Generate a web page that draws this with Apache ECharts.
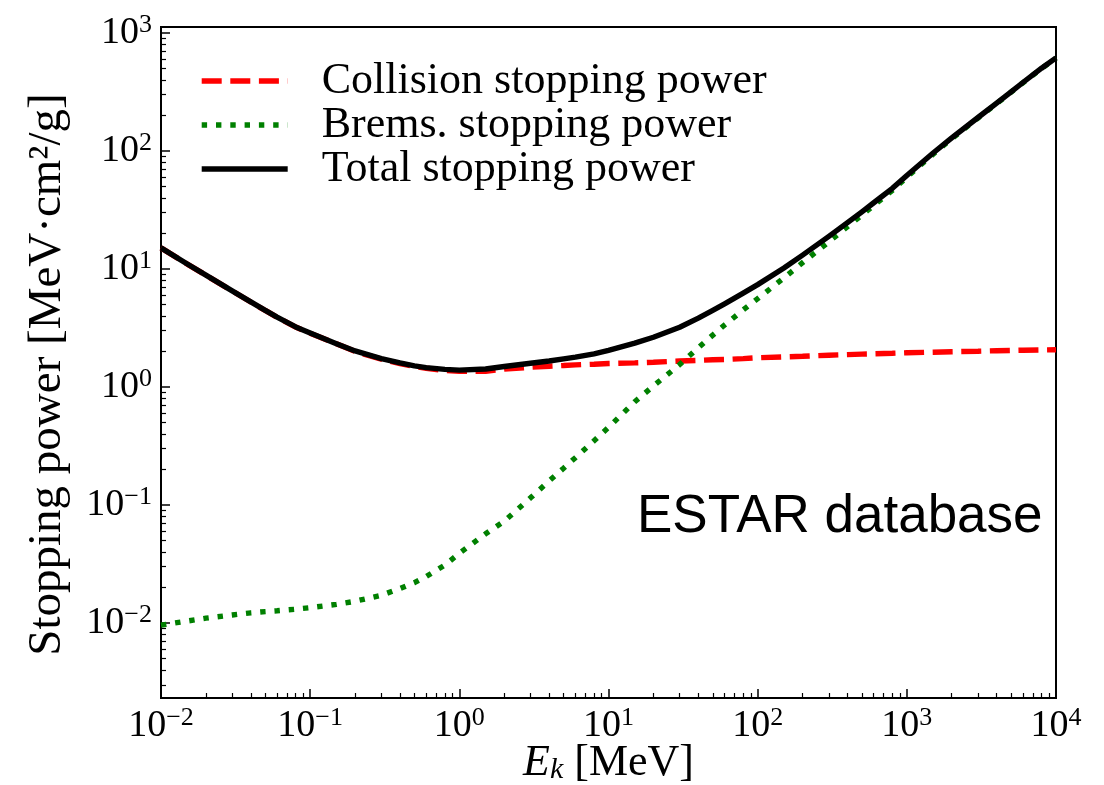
<!DOCTYPE html>
<html>
<head>
<meta charset="utf-8">
<script src="https://cdn.jsdelivr.net/npm/echarts@6/dist/echarts.min.js"></script>
<style>
html,body{margin:0;padding:0;background:#fff;}
#chart{width:1104px;height:785px;}
</style>
</head>
<body>
<div id="chart"></div>
<script>
// ---- data ----
const energy = [0.01,0.015,0.02,0.03,0.04,0.05,0.06,0.08,0.1,0.15,0.2,0.3,0.4,0.5,0.6,0.8,
  1,1.5,2,3,4,5,6,8,10,15,20,30,40,50,60,80,100,150,200,300,400,500,600,800,
  1000,1500,2000,3000,4000,5000,6000,8000,10000];
const collision = [15.1,11.0,8.85,6.52,5.25,4.45,3.90,3.22,2.86,2.32,2.00,1.72,1.58,1.49,1.44,1.38,
  1.355,1.36,1.42,1.47,1.50,1.52,1.54,1.56,1.58,1.60,1.62,1.66,1.68,1.70,1.71,1.74,1.77,1.80,1.82,1.86,1.88,1.90,1.91,1.93,
  1.95,1.97,1.99,2.01,2.03,2.04,2.05,2.06,2.07];
const brems = [0.0096,0.0104,0.0110,0.0117,0.0122,0.0125,0.0127,0.0131,0.0135,0.0144,0.0153,0.0172,0.0196,0.0220,0.0248,0.031,
  0.039,0.057,0.073,0.115,0.16,0.205,0.252,0.35,0.455,0.75,1.02,1.55,2.15,2.75,3.35,4.5,5.6,8.4,11.3,17.0,22.8,28.6,34.5,46.3,
  60,94,127,190,252,315,378,500,612];
const total = [15.1,11.01,8.86,6.53,5.26,4.46,3.91,3.23,2.87,2.33,2.02,1.74,1.60,1.51,1.46,1.41,
  1.39,1.42,1.49,1.59,1.66,1.73,1.79,1.91,2.04,2.35,2.64,3.21,3.83,4.45,5.06,6.24,7.37,10.2,13.1,18.9,24.7,30.5,36.4,48.2,
  62,96,129,192,254,317,380,502,614];
const xTickExp = [-2,-1,0,1,2,3,4];
const yTickExp = [-2,-1,0,1,2,3];
const seriesNames = ['Collision stopping power','Brems. stopping power','Total stopping power'];
const xNameParts = ['E', 'k', ' [MeV]'];
const yName = 'Stopping power [MeV·cm²/g]';
const annotation = 'ESTAR database';

// ---- helpers ----
const toLog = (ys) => energy.map((e, i) => [Math.log10(e), Math.log10(ys[i])]);
const supText = (v) => { const n = Math.round(v); return (n < 0 ? '\u2212' + (-n) : '' + n); };
const tickFmt = (v) => '{b|10}{s|' + supText(v) + '}';
function minorTicks(lo, hi) {
  const out = [];
  for (let n = Math.floor(lo) - 1; n <= Math.ceil(hi); n++) {
    for (let k = 2; k <= 9; k++) {
      const v = n + Math.log10(k);
      if (v > lo && v < hi) out.push(v);
    }
  }
  return out;
}
const X_MIN = -2, X_MAX = 4, Y_MIN = -2.635, Y_MAX = 3.05;
const serif = 'Liberation Serif';
const labelRich = {
  b: { fontFamily: serif, fontSize: 38, color: '#000', lineHeight: 42 },
  s: { fontFamily: serif, fontSize: 26, color: '#000', verticalAlign: 'top', lineHeight: 25 }
};

const chart = echarts.init(document.getElementById('chart'), null, { renderer: 'canvas' });

const option = {
  animation: false,
  backgroundColor: '#fff',
  grid: { left: 161, right: 48, top: 27, bottom: 87, show: true, borderColor: '#000', borderWidth: 2,
          backgroundColor: 'transparent', outerBoundsMode: 'none', containLabel: false },
  legend: {
    orient: 'vertical',
    left: 199, top: 59, padding: 0,
    itemWidth: 86, itemHeight: 14, itemGap: 0,
    data: seriesNames,
    itemStyle: { opacity: 0 },
    lineStyle: { width: 'inherit', type: 'inherit', cap: 'butt' },
    textStyle: { fontFamily: serif, fontSize: 44, color: '#000', lineHeight: 42.5, padding: [0, 0, 0, 29] }
  },
  xAxis: [
    {
      type: 'value', min: X_MIN, max: X_MAX, interval: 1,
      name: '{i|' + xNameParts[0] + '}{k|' + xNameParts[1] + '}{n|' + xNameParts[2] + '}',
      nameLocation: 'middle', nameGap: 43, nameMoveOverlap: false,
      nameTextStyle: { rich: {
        i: { fontFamily: serif, fontStyle: 'italic', fontSize: 44, color: '#000', lineHeight: 44 },
        k: { fontFamily: serif, fontStyle: 'italic', fontSize: 30, color: '#000', verticalAlign: 'bottom', lineHeight: 36 },
        n: { fontFamily: serif, fontSize: 44, color: '#000', lineHeight: 44 }
      } },
      axisLine: { show: true, onZero: false, lineStyle: { color: '#000', width: 2 } },
      axisTick: { show: true, inside: true, length: 9, lineStyle: { color: '#000', width: 1.5 } },
      axisLabel: { formatter: tickFmt, rich: labelRich, margin: 7 },
      splitLine: { show: false }
    },
    {
      type: 'value', min: X_MIN, max: X_MAX, position: 'bottom',
      axisLine: { show: false, onZero: false },
      axisTick: { show: true, inside: true, length: 5, customValues: minorTicks(X_MIN, X_MAX), lineStyle: { color: '#000', width: 1.2 } },
      axisLabel: { show: false },
      splitLine: { show: false }
    }
  ],
  yAxis: [
    {
      type: 'value', min: Y_MIN, max: Y_MAX,
      name: yName, nameLocation: 'middle', nameRotate: 90, nameGap: 90,
      nameTextStyle: { fontFamily: serif, fontSize: 47, color: '#000', padding: [0, 24, 0, 0] },
      axisLine: { show: true, onZero: false, lineStyle: { color: '#000', width: 2 } },
      axisTick: { show: true, inside: true, length: 9, customValues: yTickExp, lineStyle: { color: '#000', width: 1.5 } },
      axisLabel: { formatter: tickFmt, rich: labelRich, margin: 9, customValues: yTickExp },
      splitLine: { show: false }
    },
    {
      type: 'value', min: Y_MIN, max: Y_MAX, position: 'left',
      axisLine: { show: false, onZero: false },
      axisTick: { show: true, inside: true, length: 5, customValues: minorTicks(Y_MIN, Y_MAX), lineStyle: { color: '#000', width: 1.2 } },
      axisLabel: { show: false },
      splitLine: { show: false }
    }
  ],
  graphic: [{
    type: 'text', left: 637, top: 491,
    style: { text: annotation, font: '53px "Liberation Sans", Arial, sans-serif', fill: '#000' }
  }],
  series: [
    {
      name: seriesNames[0], type: 'line', data: toLog(collision), symbol: 'none', smooth: false,
      lineStyle: { color: '#ff0000', width: 5.4, type: [20, 8.6], cap: 'butt' },
      itemStyle: { color: '#ff0000' }, z: 2
    },
    {
      name: seriesNames[1], type: 'line', data: toLog(brems), symbol: 'none', smooth: false,
      lineStyle: { color: '#008000', width: 5.4, type: [5.4, 8.9], cap: 'butt' },
      itemStyle: { color: '#008000' }, z: 3
    },
    {
      name: seriesNames[2], type: 'line', data: toLog(total), symbol: 'none', smooth: false,
      lineStyle: { color: '#000', width: 5.4, type: 'solid', join: 'round' },
      itemStyle: { color: '#000' }, z: 4
    }
  ]
};
chart.setOption(option);
</script>
</body>
</html>
